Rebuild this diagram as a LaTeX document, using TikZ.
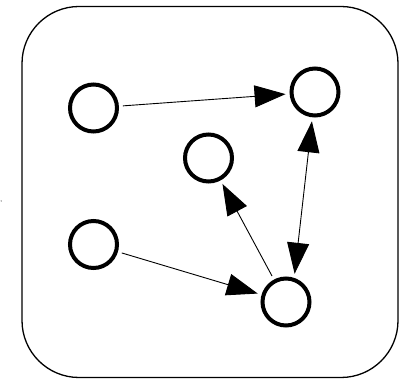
\documentclass[tikz,border=0pt]{standalone}
\usetikzlibrary{arrows.meta}
\begin{document}
\begin{tikzpicture}[x=1pt,y=-1pt,
  vertex/.style={circle,draw=black,line width=4pt,inner sep=0pt,minimum size=47pt,outer sep=6pt},
  edge/.style={line width=0.9pt,-{Triangle[length=31pt,width=22pt]}},
  biedge/.style={line width=0.9pt,{Triangle[length=31pt,width=22pt]}-{Triangle[length=31pt,width=22pt]}}]
  \useasboundingbox (0,0) rectangle (407,379);
  % frame
  \draw[line width=1.3pt,rounded corners=57pt] (22,6.5) rectangle (398,377.5);
  \fill[black!60] (1.2,201) circle (0.7pt);
  % vertices
  \node[vertex] (a) at (93.5,108) {};
  \node[vertex] (b) at (315,92) {};
  \node[vertex] (c) at (208.5,158) {};
  \node[vertex] (d) at (93.5,244.5) {};
  \node[vertex] (e) at (286,302) {};
  % edges
  \draw[edge] (a) -- (b);
  \draw[edge] (d) -- (e);
  \draw[edge] (e) -- (c);
  \draw[biedge] (b.264) -- (e.73);
\end{tikzpicture}
\end{document}
